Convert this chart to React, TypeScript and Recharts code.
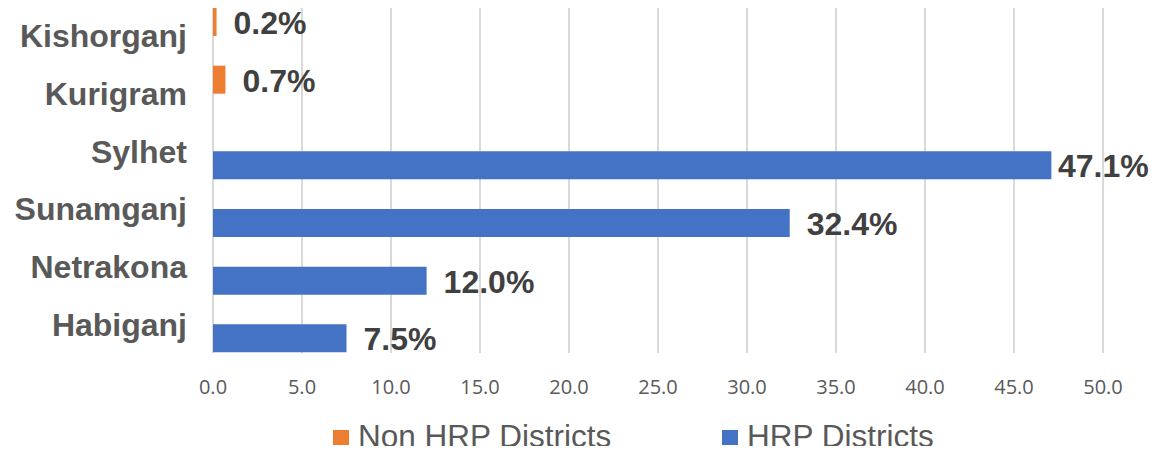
import React from 'react';
import {
  BarChart,
  Bar,
  XAxis,
  YAxis,
  CartesianGrid,
  Legend,
  LabelList,
} from 'recharts';

const districts = ['Kishorganj', 'Kurigram', 'Sylhet', 'Sunamganj', 'Netrakona', 'Habiganj'];
const nonHrpValues = [0.2, 0.7, null, null, null, null];
const hrpValues = [null, null, 47.1, 32.4, 12.0, 7.5];
const xTicks = [0, 5, 10, 15, 20, 25, 30, 35, 40, 45, 50];

const data = districts.map((name, i) => ({
  name,
  nonHrp: nonHrpValues[i],
  hrp: hrpValues[i],
}));

const ORANGE = '#ED7D31';
const BLUE = '#4472C4';
const W = 1168;
const H = 454;

// value label at the bar end, pulled back in when it would run off the right edge
const renderValue = (props: any) => {
  const { x, y, width, height, value } = props;
  if (value === null || value === undefined) return null;
  const text = `${Number(value).toFixed(1)}%`;
  const approxW = text.length * 18;
  let lx = x + width + 17;
  if (lx + approxW > W - 20) lx = W - 20 - approxW;
  return (
    <text
      x={lx}
      y={y + height / 2 + 1}
      dominantBaseline="central"
      fontFamily="'Liberation Sans', Arial, sans-serif"
      fontWeight="bold"
      fontSize={32}
      fill="#404040"
    >
      {text}
    </text>
  );
};

const renderLegend = () => {
  const items = [
    { label: 'Non HRP Districts', color: ORANGE, width: 389 },
    { label: 'HRP Districts', color: BLUE, width: 240 },
  ];
  return (
    <div style={{ height: 41, display: 'flex', alignItems: 'center', paddingLeft: 333 }}>
      {items.map((it) => (
        <div key={it.label} style={{ width: it.width, flexShrink: 0, display: 'flex', alignItems: 'center', whiteSpace: 'nowrap', marginTop: 7 }}>
          <span style={{ display: 'inline-block', flexShrink: 0, width: 16, height: 15, background: it.color, marginRight: 9 }} />
          <span
            style={{
              display: 'inline-block',
              fontFamily: "'Liberation Sans', Arial, sans-serif",
              fontSize: 31.5,
              lineHeight: 1,
              color: '#595959',
            }}
          >
            {it.label}
          </span>
        </div>
      ))}
    </div>
  );
};

export default function App() {
  return (
    <div style={{ margin: -8, width: W, height: H, background: '#fff' }}>
      <BarChart
        width={W}
        height={H}
        data={data}
        layout="vertical"
        margin={{ top: 7, right: 65, bottom: 0, left: 0 }}
        barCategoryGap={1}
        barGap={0}
      >
        <CartesianGrid horizontal={false} stroke="#d9d9d9" strokeWidth={2} />
        <XAxis
          type="number"
          domain={[0, 50]}
          ticks={xTicks}
          interval={0}
          tickFormatter={(v: number) => v.toFixed(1)}
          axisLine={false}
          tickLine={false}
          tickSize={0}
          tickMargin={27}
          height={60}
          tick={{ fill: '#595959', fontSize: 20, fontFamily: "'Open Sans', sans-serif" }}
        />
        <YAxis
          type="category"
          dataKey="name"
          width={213}
          axisLine={false}
          tickLine={false}
          tickSize={0}
          tickMargin={26}
          interval={0}
          tick={{ fill: '#595959', fontSize: 32, fontWeight: 'bold', fontFamily: "'Liberation Sans', Arial, sans-serif" }}
        />
        <Legend verticalAlign="bottom" content={renderLegend} />
        <Bar dataKey="nonHrp" name="Non HRP Districts" fill={ORANGE} isAnimationActive={false}>
          <LabelList dataKey="nonHrp" content={renderValue} />
        </Bar>
        <Bar dataKey="hrp" name="HRP Districts" fill={BLUE} isAnimationActive={false}>
          <LabelList dataKey="hrp" content={renderValue} />
        </Bar>
      </BarChart>
    </div>
  );
}
